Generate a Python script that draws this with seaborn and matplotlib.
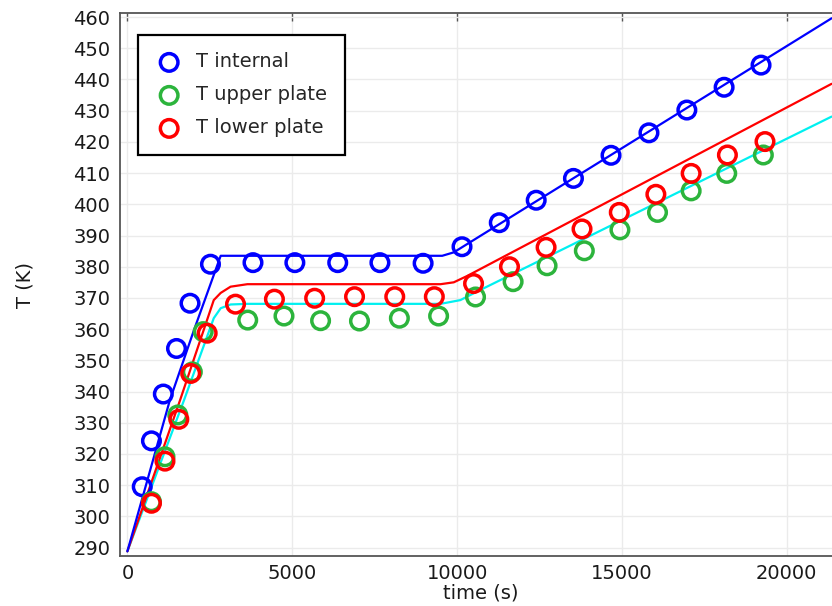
import matplotlib
matplotlib.use("Agg")
import matplotlib.pyplot as plt
import seaborn as sns
import pandas as pd

# ---- measured data (circles) ----
t_internal = [450, 730, 1090, 1490, 1900, 2520, 3810, 5080, 6380, 7660, 8970,
              10150, 11280, 12400, 13530, 14670, 15820, 16970, 18100, 19220]
T_internal = [309.5, 324.2, 339.2, 353.8, 368.3, 380.8, 381.3, 381.3, 381.3, 381.3, 381.1,
              386.4, 394.1, 401.3, 408.3, 415.7, 422.9, 430.2, 437.5, 444.6]

t_upper = [730, 1140, 1530, 1970, 2300, 3650, 4750, 5860, 7040, 8250, 9440,
           10560, 11700, 12730, 13860, 14940, 16080, 17100, 18180, 19290]
T_upper = [304.7, 319.1, 332.5, 346.3, 359.2, 362.9, 364.2, 362.7, 362.6, 363.5, 364.2,
           370.3, 375.2, 380.3, 385.1, 391.8, 397.4, 404.3, 409.9, 415.8]

t_lower = [730, 1140, 1560, 1920, 2420, 3280, 4460, 5680, 6890, 8110, 9310,
           10500, 11590, 12700, 13790, 14920, 16030, 17100, 18200, 19340]
T_lower = [304.2, 317.7, 331.1, 345.8, 358.7, 368.0, 369.6, 369.9, 370.4, 370.4, 370.4,
           374.6, 380.0, 386.2, 392.1, 397.4, 403.2, 409.9, 415.8, 420.1]

# ---- simulated curves (lines) ----
line_t_internal = [0, 1290, 2020, 2830, 9550, 9900, 21360]
line_T_internal = [288.8, 337.3, 359.7, 383.5, 383.5, 384.6, 459.6]

line_t_lower = [0, 1600, 2620, 2830, 3130, 3640, 9500, 9900, 10300, 21360]
line_T_lower = [288.8, 337.3, 369.3, 371.6, 373.6, 374.4, 374.4, 375.0, 377.0, 438.6]

line_t_upper = [0, 1720, 2620, 2830, 3130, 3640, 9500, 10100, 10600, 21360]
line_T_upper = [288.8, 337.3, 363.5, 366.7, 367.9, 368.1, 368.1, 369.3, 372.0, 428.1]

x_ticks = [0, 5000, 10000, 15000, 20000]
y_ticks = list(range(290, 461, 10))

labels = ["T internal", "T upper plate", "T lower plate"]

sns.set_theme(style="white")
plt.rcParams["font.family"] = ["DejaVu Sans"]

fig = plt.figure(figsize=(8.32, 6.06), dpi=100)
W, H = 832, 606
left, right, top, bottom = 120, 842, 13.3, 555.7
ax = fig.add_axes([left / W, 1 - bottom / H, (right - left) / W, (bottom - top) / H])

c_blue = "#0000ff"
c_green = "#2cb43c"
c_red = "#ff0000"
c_cyan = "#00f0f0"

for lt, lT, col in [(line_t_upper, line_T_upper, c_cyan),
                    (line_t_lower, line_T_lower, c_red),
                    (line_t_internal, line_T_internal, c_blue)]:
    sns.lineplot(x=lt, y=lT, ax=ax, color=col, lw=1.6, sort=False,
                 estimator=None, legend=False, zorder=3)

for tt, TT, col, lab in [(t_internal, T_internal, c_blue, labels[0]),
                         (t_upper, T_upper, c_green, labels[1]),
                         (t_lower, T_lower, c_red, labels[2])]:
    sns.scatterplot(x=tt, y=TT, ax=ax, marker="o", s=160, facecolors="none",
                    edgecolor=col, linewidth=2.5, label=lab, zorder=4)

ax.set_xlim(-224, (right - 126.7) / 0.033)
ax.set_ylim(287.4, 461.2)
ax.set_xticks(x_ticks)
ax.set_yticks(y_ticks)
ax.grid(True, color="#ebebeb", lw=1.0)
ax.set_axisbelow(True)

for s in ["left", "bottom", "top", "right"]:
    ax.spines[s].set_color("#555555")
    ax.spines[s].set_linewidth(1.3)

ax.tick_params(axis="both", direction="in", length=6, width=1, colors="#555555",
               labelcolor="#1a1a1a", labelsize=14, top=True, right=True)
ax.tick_params(axis="x", pad=6)
ax.tick_params(axis="y", pad=7)

ax.set_xlabel("time (s)", fontsize=14, color="#1a1a1a", labelpad=0)
ax.set_ylabel("T (K)", fontsize=14, color="#1a1a1a")
ax.yaxis.set_label_coords(-0.118, 0.5)

leg = ax.legend(loc="upper left", bbox_to_anchor=(0.025, 0.96), borderaxespad=0,
                fontsize=14.0, frameon=True, fancybox=False, framealpha=1,
                edgecolor="black", handletextpad=0.7, labelspacing=0.72,
                borderpad=0.9, handlelength=1.4)
leg.get_frame().set_linewidth(1.6)

fig.savefig("out.png", dpi=100)
